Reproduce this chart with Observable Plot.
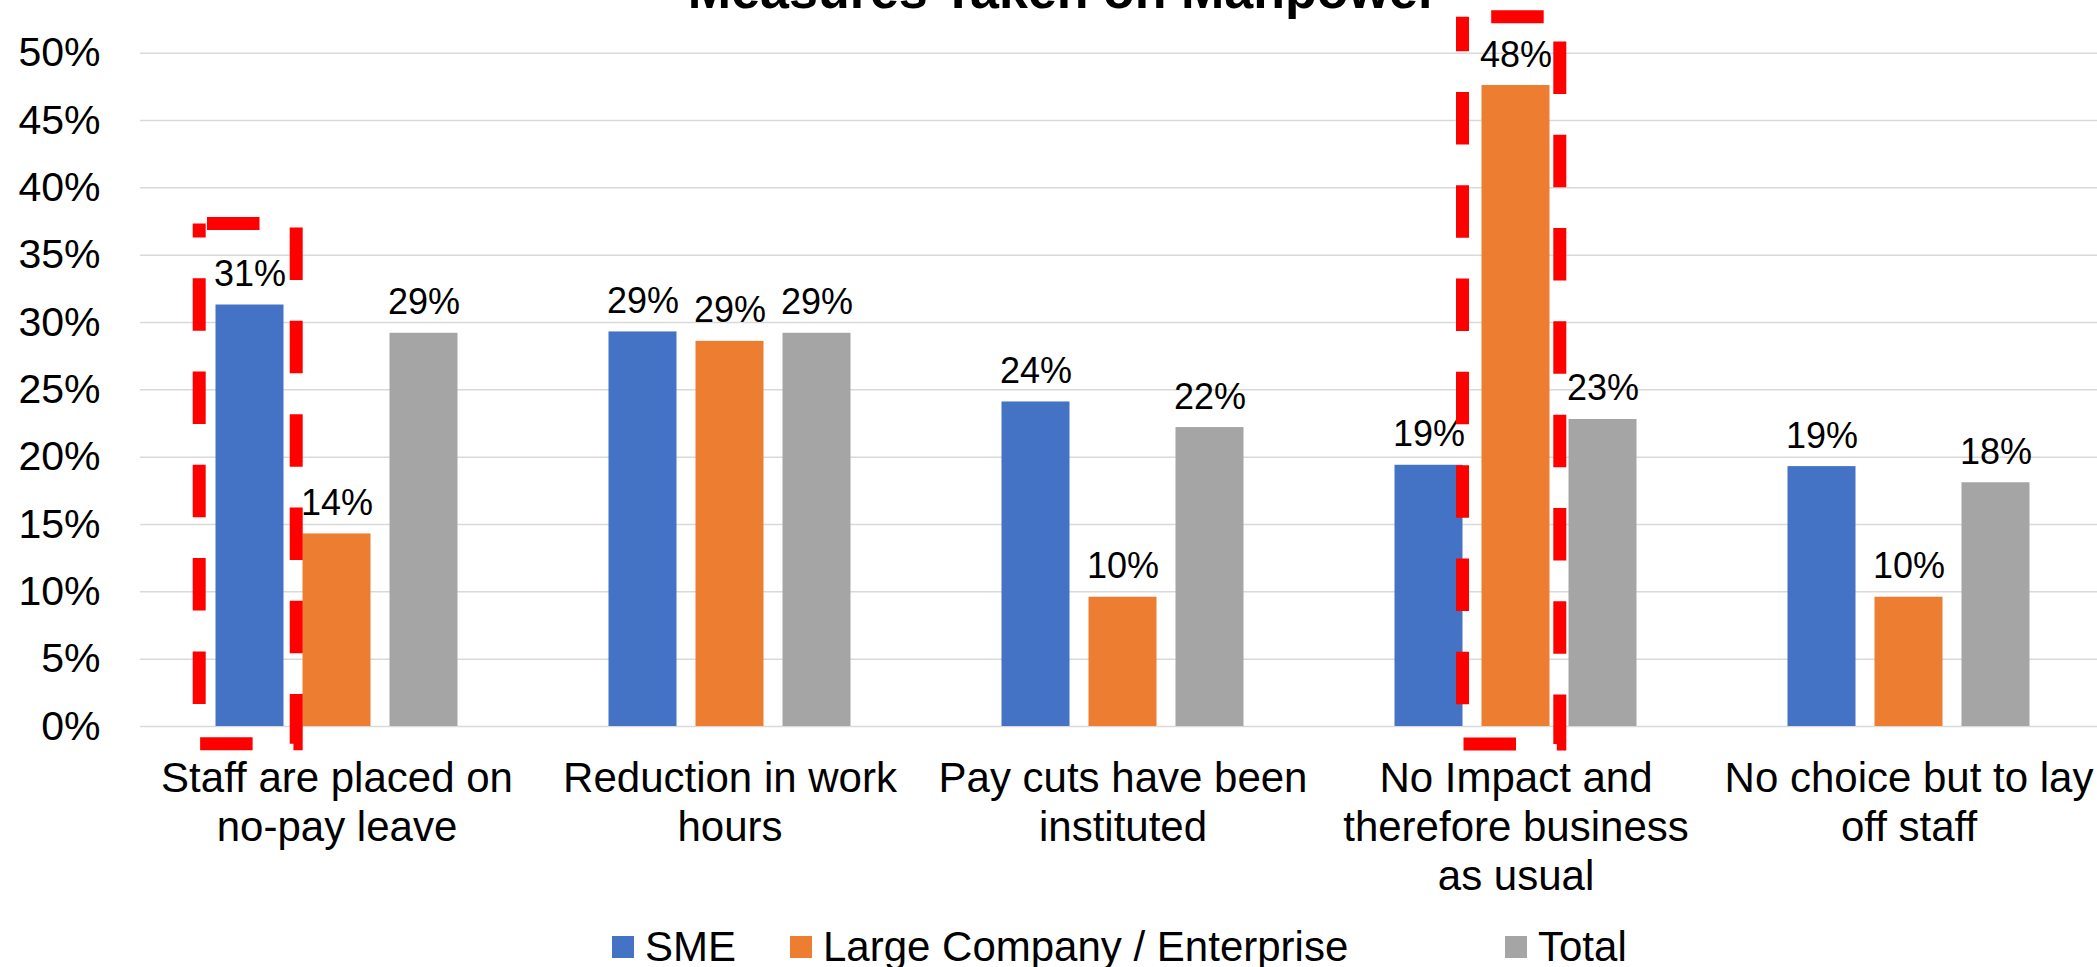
<!DOCTYPE html>
<html>
<head>
<meta charset="utf-8">
<script src="https://cdn.jsdelivr.net/npm/d3@7"></script>
<script src="https://cdn.jsdelivr.net/npm/@observablehq/plot@0.6"></script>
<style>
  html, body { margin: 0; padding: 0; background: #fff; overflow: hidden; }
  body { width: 2097px; height: 967px; position: relative; font-family: "Liberation Sans", Arial, sans-serif; color: #000; }
  #title { position: absolute; left: 0; width: 2126px; top: -36px; text-align: center; font-weight: bold; font-size: 52px; line-height: 52px; white-space: nowrap; }
  #chart { height: 920px; }
  #chart svg { display: block; }
  #legend { position: relative; height: 47px; font-size: 42px; line-height: 54px; }
  #legend .sw { position: absolute; top: 16px; width: 22px; height: 22px; }
  #legend .lb { position: absolute; top: 0; white-space: nowrap; }
</style>
</head>
<body>
<div id="chart"></div>
<div id="legend"></div>
<div id="title">Measures Taken on Manpower</div>
<script>
// ---- data ----
const categories = [
  "Staff are placed on no-pay leave",
  "Reduction in work hours",
  "Pay cuts have been instituted",
  "No Impact and therefore business as usual",
  "No choice but to lay off staff"
];
const tickLabels = [
  "Staff are placed on\nno-pay leave",
  "Reduction in work\nhours",
  "Pay cuts have been\ninstituted",
  "No Impact and\ntherefore business\nas usual",
  "No choice but to lay\noff staff"
];
const series = ["SME", "Large Company / Enterprise", "Total"];
const smeValues   = [0.313, 0.293, 0.241, 0.194, 0.193];
const largeValues = [0.143, 0.286, 0.096, 0.476, 0.096];
const totalValues = [0.292, 0.292, 0.222, 0.228, 0.181];
const seriesColors = ["#4472C4", "#ED7D31", "#A5A5A5"];
const yTicks = [0, 0.05, 0.10, 0.15, 0.20, 0.25, 0.30, 0.35, 0.40, 0.45, 0.50];
// highlighted bars (dashed red boxes), extents in data units
const highlightCategories = [categories[0], categories[3]];
const highlightTops = [0.3732, 0.5267];
const highlightBottoms = [-0.0132, -0.0134];

// ---- build table ----
const valuesBySeries = [smeValues, largeValues, totalValues];
const rows = [];
series.forEach((s, k) => categories.forEach((c, i) => rows.push({category: c, series: s, value: valuesBySeries[k][i]})));
const highlights = highlightCategories.map((c, i) => ({category: c, y1: highlightBottoms[i], y2: highlightTops[i]}));

const fmt = d3.format(".0%");
const step = 87;          // distance between bars inside a group
const inset = (393 - 68) / 2;

const barMarks = series.map((s, k) => Plot.barY(rows.filter(d => d.series === s), {
  x: "category", y: "value", fill: "series", dx: (k - 1) * step,
  insetLeft: inset, insetRight: inset
}));
const labelMarks = series.map((s, k) => Plot.text(rows.filter(d => d.series === s), {
  x: "category", y: "value", text: d => fmt(d.value), dx: (k - 1) * step, dy: -19,
  lineAnchor: "bottom", fontSize: 36, fill: "#000"
}));

const dash = "52.5 40.8";
const highlightMarks = [
  Plot.barY([highlights[0]], {x: "category", y1: "y1", y2: "y2", fill: "none", stroke: "#FF0000",
    strokeWidth: 13, strokeDasharray: dash, strokeDashoffset: 85.5, insetLeft: 59.2, insetRight: 236.8}),
  Plot.barY([highlights[1]], {x: "category", y1: "y1", y2: "y2", fill: "none", stroke: "#FF0000",
    strokeWidth: 13, strokeDasharray: dash, strokeDashoffset: 64.6, insetLeft: 143.5, insetRight: 152.2})
];

const chart = Plot.plot({
  width: 2097,
  height: 920,
  marginLeft: 140,
  marginRight: 0,
  marginTop: 52.7,
  marginBottom: 194,
  style: {fontFamily: "'Liberation Sans', Arial, sans-serif", color: "#000", background: "#fff", overflow: "visible"},
  x: {domain: categories, range: [139.5, 2104.5], padding: 0},
  y: {domain: [0, 0.5], range: [726, 52.7]},
  color: {domain: series, range: seriesColors},
  marks: [
    Plot.ruleY(yTicks, {stroke: "#D9D9D9", strokeWidth: 1.5}),
    ...barMarks,
    ...labelMarks,
    ...highlightMarks,
    Plot.axisY(yTicks, {tickFormat: fmt, tickSize: 0, tickPadding: 40, fontSize: 41, label: null, fill: "#000"}),
    Plot.axisX({tickFormat: d => tickLabels[categories.indexOf(d)], tickSize: 0, tickPadding: 30,
      fontSize: 42, lineHeight: 1.174, label: null, fill: "#000"})
  ]
});
document.getElementById("chart").appendChild(chart);

// ---- legend ----
const legend = document.getElementById("legend");
const swatchLeft = [612, 790, 1505];
series.forEach((s, k) => {
  const sw = document.createElement("div");
  sw.className = "sw";
  sw.style.left = swatchLeft[k] + "px";
  sw.style.background = seriesColors[k];
  legend.appendChild(sw);
  const lb = document.createElement("div");
  lb.className = "lb";
  lb.style.left = (swatchLeft[k] + 33) + "px";
  lb.textContent = s;
  legend.appendChild(lb);
});
</script>
</body>
</html>
